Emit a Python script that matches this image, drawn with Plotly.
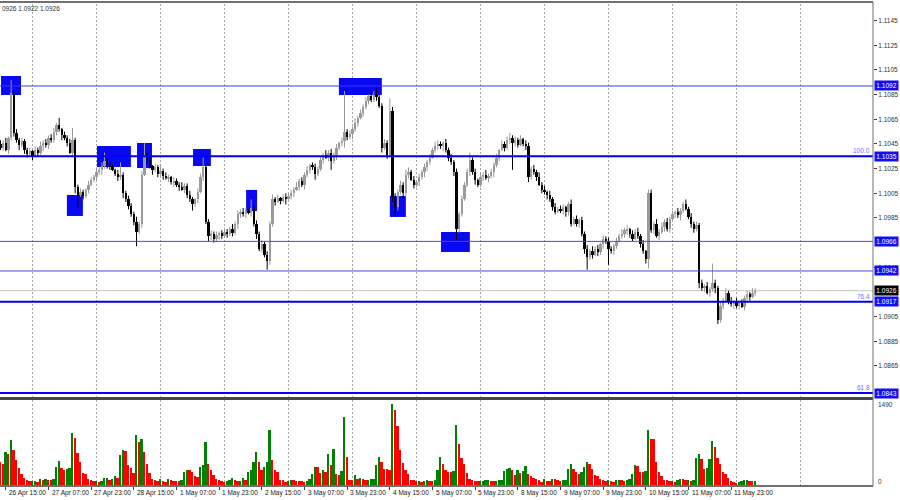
import plotly.graph_objects as go

# ---------------- data (prices in pips above 1.0900) ----------------
BASE = 1.0900
PIP = 0.0001
FIRST_OPEN_PIPS = 145

CLOSE_PIPS = [
    142, 146, 140, 150, 186, 154, 148, 144, 147, 140,
    137, 139, 135, 140, 138, 143, 146, 144, 150, 148,
    155, 160, 157, 152, 150, 146, 138, 148, 110, 104,
    106, 103, 108, 112, 116, 118, 122, 124, 127, 131,
    128, 126, 124, 121, 118, 120, 105, 100, 95, 88,
    82, 74, 80, 120, 136, 132, 127, 124, 126, 121,
    123, 119, 117, 118, 114, 115, 112, 110, 108, 111,
    104, 100, 96, 100, 106, 118, 126, 82, 70, 72,
    68, 71, 73, 70, 74, 72, 76, 73, 80, 88,
    90, 88, 91, 89, 93, 80, 72, 60, 64, 55,
    50, 80, 100, 98, 101, 99, 102, 100, 103, 105,
    108, 110, 115, 112, 120, 124, 128, 126, 121, 125,
    132, 136, 134, 138, 131, 136, 142, 146, 147, 155,
    151, 153, 157, 162, 166, 170, 175, 180, 184, 181,
    185, 183, 176, 142, 146, 136, 172, 102, 94, 106,
    112, 105, 120, 122, 116, 112, 114, 118, 122, 126,
    130, 134, 140, 143, 145, 143, 146, 140, 134, 130,
    122, 76, 88, 100, 112, 122, 132, 122, 116, 112,
    118, 120, 117, 119, 122, 128, 134, 140, 145, 142,
    148, 150, 146, 148, 144, 149, 145, 143, 118, 125,
    122, 118, 112, 108, 106, 104, 100, 94, 90, 92,
    91, 94, 90, 96, 80, 84, 80, 83, 72, 60,
    53, 58, 55, 60, 57, 64, 68, 66, 60, 58,
    62, 66, 70, 72, 75, 76, 72, 68, 74, 70,
    64, 58, 52, 105, 75, 80, 70, 74, 78, 82,
    76, 84, 88, 90, 87, 91, 96, 92, 86, 80,
    76, 79, 32, 28, 30, 24, 27, 32, 28, 2,
    14, 18, 24, 18, 15, 17, 14, 16, 13, 20,
    23, 21, 24, 26,
]

UPPER_WICK_PIPS = [
    3, 2, 4, 1, 11, 2, 3, 2, 3, 2,
    2, 3, 1, 3, 2, 4, 2, 3, 2, 3,
    3, 2, 6, 1, 3, 2, 3, 10, 2, 2,
    3, 2, 1, 3, 2, 2, 4, 2, 3, 7,
    2, 3, 2, 1, 3, 10, 2, 2, 3, 2,
    2, 4, 2, 3, 10, 2, 3, 1, 3, 2,
    5, 2, 3, 2, 1, 3, 2, 2, 4, 2,
    2, 3, 2, 1, 3, 3, 8, 2, 2, 3,
    2, 3, 1, 2, 3, 2, 2, 4, 2, 3,
    2, 3, 2, 1, 7, 2, 3, 2, 3, 2,
    3, 2, 4, 2, 3, 1, 2, 3, 2, 3,
    2, 4, 2, 3, 2, 3, 1, 2, 3, 2,
    3, 2, 4, 2, 3, 2, 3, 1, 3, 33,
    2, 3, 2, 4, 2, 3, 2, 3, 1, 3,
    3, 5, 2, 2, 3, 2, 10, 3, 3, 2,
    3, 2, 4, 4, 2, 3, 1, 3, 2, 3,
    2, 3, 2, 4, 3, 2, 1, 3, 2, 3,
    2, 3, 2, 3, 2, 3, 6, 2, 3, 1,
    3, 2, 4, 2, 3, 2, 3, 1, 3, 2,
    3, 4, 2, 3, 2, 3, 1, 3, 3, 2,
    3, 2, 4, 2, 3, 1, 3, 2, 3, 2,
    3, 2, 1, 2, 4, 2, 3, 2, 3, 2,
    3, 2, 4, 2, 3, 1, 3, 2, 3, 2,
    2, 3, 2, 4, 2, 3, 1, 3, 2, 3,
    2, 3, 1, 3, 3, 2, 4, 2, 3, 2,
    3, 2, 3, 1, 3, 2, 2, 4, 2, 3,
    2, 3, 2, 3, 1, 3, 2, 16, 3, 2,
    3, 2, 4, 2, 3, 1, 3, 2, 3, 2,
    3, 2, 4, 2,
]

LOWER_WICK_PIPS = [
    2, 3, 1, 3, 2, 3, 2, 4, 2, 3,
    3, 2, 3, 1, 3, 2, 4, 2, 3, 2,
    2, 3, 2, 4, 2, 3, 1, 2, 5, 11,
    2, 3, 2, 3, 1, 2, 3, 2, 4, 2,
    3, 2, 1, 2, 3, 2, 4, 2, 3, 2,
    3, 12, 2, 3, 1, 3, 2, 4, 2, 3,
    2, 3, 1, 3, 2, 4, 2, 3, 1, 3,
    3, 2, 5, 2, 3, 1, 3, 2, 4, 3,
    3, 2, 4, 2, 1, 3, 2, 3, 2, 4,
    3, 2, 3, 1, 3, 2, 4, 2, 3, 2,
    7, 3, 2, 3, 1, 3, 2, 4, 2, 3,
    3, 1, 3, 2, 4, 2, 3, 2, 5, 2,
    2, 3, 1, 3, 7, 2, 4, 2, 3, 5,
    3, 2, 4, 2, 3, 1, 3, 2, 3, 2,
    2, 3, 2, 4, 2, 3, 1, 4, 8, 3,
    2, 4, 2, 3, 1, 3, 2, 3, 2, 4,
    3, 2, 1, 2, 3, 2, 4, 2, 3, 2,
    3, 9, 3, 2, 1, 2, 3, 2, 4, 2,
    2, 3, 1, 3, 2, 4, 2, 3, 1, 3,
    2, 3, 22, 3, 2, 1, 2, 3, 4, 2,
    2, 3, 1, 3, 2, 4, 2, 3, 2, 1,
    2, 3, 4, 3, 2, 1, 2, 3, 2, 4,
    10, 2, 3, 1, 3, 2, 4, 2, 13, 2,
    3, 2, 1, 2, 3, 4, 3, 2, 1, 2,
    3, 2, 4, 8, 2, 3, 1, 3, 2, 4,
    2, 3, 1, 3, 2, 4, 2, 1, 2, 3,
    3, 2, 4, 2, 3, 1, 3, 2, 4, 3,
    2, 3, 1, 3, 2, 4, 2, 3, 1, 3,
    2, 3, 1, 2,
]

VOLUME = [
    434, 390, 608, 570, 837, 651, 465, 322, 217, 143,
    105, 81, 88, 90, 62, 124, 105, 118, 99, 93,
    124, 341, 446, 329, 279, 310, 315, 961, 868, 601,
    434, 229, 217, 112, 93, 74, 78, 62, 76, 143,
    146, 93, 124, 174, 143, 552, 651, 639, 372, 329,
    229, 930, 794, 862, 608, 390, 229, 124, 105, 74,
    118, 81, 68, 118, 93, 90, 87, 81, 93, 248,
    279, 275, 248, 180, 160, 341, 372, 794, 390, 279,
    198, 124, 105, 81, 62, 81, 105, 136, 93, 81,
    90, 143, 105, 248, 279, 434, 620, 434, 291, 341,
    434, 1023, 465, 291, 248, 105, 93, 62, 81, 105,
    93, 87, 81, 74, 68, 81, 118, 205, 341, 335,
    229, 291, 254, 570, 372, 663, 217, 186, 260, 1259,
    515, 105, 93, 186, 124, 143, 124, 93, 105, 118,
    124, 372, 527, 434, 310, 298, 290, 1490, 1383, 1085,
    651, 415, 291, 217, 105, 93, 74, 81, 62, 81,
    105, 87, 74, 105, 279, 527, 403, 279, 250, 240,
    267, 1116, 763, 496, 403, 236, 124, 105, 81, 74,
    82, 84, 93, 95, 84, 74, 81, 93, 95, 260,
    310, 329, 279, 186, 279, 229, 267, 353, 217, 167,
    136, 124, 93, 62, 124, 81, 74, 124, 112, 93,
    87, 93, 105, 304, 403, 304, 248, 217, 248, 341,
    428, 403, 304, 186, 180, 124, 105, 81, 93, 81,
    62, 93, 105, 93, 74, 93, 124, 205, 372, 353,
    248, 245, 267, 1023, 849, 845, 422, 248, 167, 105,
    93, 81, 74, 62, 105, 124, 112, 93, 100, 85,
    93, 496, 577, 477, 298, 329, 477, 825, 713, 496,
    390, 248, 217, 136, 81, 62, 43, 62, 81, 105,
    108, 81, 74, 81,
]

DATE_LABELS = [
    "26 Apr 15:00", "27 Apr 07:00", "27 Apr 23:00", "28 Apr 15:00",
    "1 May 07:00", "1 May 23:00", "2 May 15:00", "3 May 07:00",
    "3 May 23:00", "4 May 15:00", "5 May 07:00", "5 May 23:00",
    "8 May 15:00", "9 May 07:00", "9 May 23:00", "10 May 15:00",
    "11 May 07:00", "11 May 23:00",
]
DATE_LABEL_BARS = [2 + 16 * k for k in range(len(DATE_LABELS))]
DAY_GRID_BARS = [12 + 24 * k for k in range(13)]

LEVELS = [1.1092, 1.1035, 1.0966, 1.0942, 1.0917, 1.0843]
BID = 1.0926
FIB_LEVELS = [1.1035, 1.0917, 1.0843]
FIB_TEXT = ["100.0", "76.4", "61.8"]
PRICE_TICKS = [1.0865, 1.0885, 1.0905, 1.0945, 1.0985, 1.1005, 1.1025, 1.1045,
               1.1065, 1.1085, 1.1105, 1.1125, 1.1145]
VOLUME_TICKS = [0, 1490]
HEADER = "0926 1.0922 1.0926"

# signal zones: bar index span and price span
SIG_X0 = [0.2, 24.9, 36.2, 51.2, 72.2, 92.1, 126.9, 146.0, 165.2]
SIG_X1 = [7.7, 30.9, 48.9, 56.8, 78.9, 96.2, 143.0, 152.0, 176.0]
SIG_TOP = [1.11001, 1.10036, 1.10433, 1.10458, 1.10409, 1.10077, 1.10985, 1.10028, 1.09736]
SIG_BOT = [1.10847, 1.09866, 1.10263, 1.10255, 1.10271, 1.09906, 1.10847, 1.09858, 1.09574]

# ---------------- build ----------------
N = len(CLOSE_PIPS)
xs = list(range(N))
closes = [BASE + c * PIP for c in CLOSE_PIPS]
opens = [BASE + FIRST_OPEN_PIPS * PIP] + closes[:-1]
highs = [max(o, c) + u * PIP for o, c, u in zip(opens, closes, UPPER_WICK_PIPS)]
lows = [min(o, c) - l * PIP for o, c, l in zip(opens, closes, LOWER_WICK_PIPS)]
is_up = [c >= o for o, c in zip(opens, closes)]
vol_colors = ["#ff0000"] + ["#008000" if VOLUME[i] > VOLUME[i - 1] else "#ff0000" for i in range(1, N)]

UP_COLOR = "#9a9a9a"
DOWN_COLOR = "#000000"
FONT = "Liberation Sans"
plot_w = 873.0
bar_px = 2.6667
x_lo = -0.5 / bar_px
x_hi = x_lo + plot_w / bar_px

plot_h = 484.0
main_bottom = (486 - 397) / plot_h
vol_top = (486 - 400) / plot_h

fig = go.Figure()
# wicks
for up_flag, col in [(True, UP_COLOR), (False, DOWN_COLOR)]:
    wx, wy = [], []
    for i in range(N):
        if is_up[i] == up_flag:
            wx += [xs[i], xs[i], None]
            wy += [lows[i], highs[i], None]
    fig.add_trace(go.Scatter(x=wx, y=wy, mode="lines", line=dict(color=col, width=1),
                             xaxis="x", yaxis="y", hoverinfo="skip", showlegend=False))
# bodies
body_base = [min(o, c) for o, c in zip(opens, closes)]
body_h = [max(abs(c - o), 0.4 * PIP) for o, c in zip(opens, closes)]
fig.add_trace(go.Bar(
    x=xs, y=body_h, base=body_base, xaxis="x", yaxis="y", width=0.78,
    marker=dict(color=[UP_COLOR if u else DOWN_COLOR for u in is_up], line=dict(width=0)),
    hoverinfo="skip", showlegend=False,
))
fig.add_trace(go.Bar(
    x=xs, y=VOLUME, xaxis="x2", yaxis="y2", width=0.72,
    marker=dict(color=vol_colors, line=dict(width=0)),
    hoverinfo="skip", showlegend=False,
))

shapes = []
for g in DAY_GRID_BARS:
    shapes.append(dict(type="line", xref="x", yref="paper", x0=g, x1=g, y0=0, y1=1,
                       line=dict(color="#a4a4a4", width=1, dash="2px,2px"), layer="below"))
for a, b, t, bt in zip(SIG_X0, SIG_X1, SIG_TOP, SIG_BOT):
    shapes.append(dict(type="rect", xref="x", yref="y", x0=a, x1=b, y0=bt, y1=t,
                       fillcolor="#0808f2", line=dict(width=0), layer="below"))
shapes.append(dict(type="line", xref="paper", yref="y", x0=0, x1=1, y0=BID, y1=BID,
                   line=dict(color="#c4c4c4", width=1), layer="below"))
level_style = {1.1092: ("#3a3af0", 1), 1.1035: ("#0000ee", 2), 1.0966: ("#4a4ad6", 1),
               1.0942: ("#4a4ad6", 1), 1.0917: ("#0000ee", 2), 1.0843: ("#0000ee", 2)}
for lv in LEVELS:
    c, w = level_style[lv]
    shapes.append(dict(type="line", xref="paper", yref="y", x0=0, x1=1, y0=lv, y1=lv,
                       line=dict(color=c, width=w), layer="above"))
# frame
shapes.append(dict(type="rect", xref="paper", yref="paper", x0=0, x1=1, y0=vol_top, y1=main_bottom,
                   fillcolor="#474747", line=dict(width=0), layer="above"))
shapes.append(dict(type="line", xref="paper", yref="paper", x0=0, x1=1, y0=1, y1=1,
                   line=dict(color="#404040", width=1.5)))
shapes.append(dict(type="line", xref="paper", yref="paper", x0=0, x1=1, y0=0, y1=0,
                   line=dict(color="#404040", width=1.5)))
shapes.append(dict(type="line", xref="paper", yref="paper", x0=1, x1=1, y0=0, y1=1,
                   line=dict(color="#707070", width=1)))

ann = []
for lv in LEVELS:
    ann.append(dict(xref="paper", yref="y", x=1, y=lv, xanchor="left", yanchor="middle", xshift=1,
                    text="%.4f" % lv, showarrow=False, bgcolor="#1010f0", width=23, height=9,
                    borderpad=0, font=dict(family=FONT, size=6.5, color="white")))
ann.append(dict(xref="paper", yref="y", x=1, y=BID, xanchor="left", yanchor="middle", xshift=1,
                text="%.4f" % BID, showarrow=False, bgcolor="#000000", width=23, height=9,
                borderpad=0, font=dict(family=FONT, size=6.5, color="white")))
for lv, t in zip(FIB_LEVELS, FIB_TEXT):
    ann.append(dict(xref="paper", yref="y", x=1, y=lv, xanchor="right", yanchor="bottom", xshift=-1,
                    text=t, showarrow=False, font=dict(family=FONT, size=6.5, color="#6f6fff")))
for v, ys in zip(VOLUME_TICKS, [4, 0]):
    ann.append(dict(xref="paper", yref="y2", x=1, y=v, xanchor="left", yanchor="middle", xshift=3,
                    yshift=ys, text=str(v), showarrow=False,
                    font=dict(family=FONT, size=6.5, color="#303030")))
for b, t in zip(DATE_LABEL_BARS, DATE_LABELS):
    ann.append(dict(xref="x2", yref="paper", x=b, y=0, xanchor="left", yanchor="top", xshift=1,
                    yshift=-1, text=t, showarrow=False,
                    font=dict(family=FONT, size=6.5, color="#202020")))
ann.append(dict(xref="paper", yref="paper", x=0, y=1, xanchor="left", yanchor="top", yshift=-1,
                text=HEADER, showarrow=False, font=dict(family=FONT, size=6.5, color="#303030")))

fig.update_layout(
    width=900, height=500,
    margin=dict(l=0, r=27, t=2, b=14),
    paper_bgcolor="white", plot_bgcolor="white",
    shapes=shapes, annotations=ann, bargap=0, barmode="overlay",
    xaxis=dict(domain=[0, 1], range=[x_lo, x_hi], anchor="y", showticklabels=False,
               showgrid=False, zeroline=False, fixedrange=True),
    xaxis2=dict(domain=[0, 1], range=[x_lo, x_hi], anchor="y2", showticklabels=False,
                showgrid=False, zeroline=False, ticks="outside", ticklen=3, tickcolor="#404040",
                tickvals=DATE_LABEL_BARS, fixedrange=True),
    yaxis=dict(domain=[main_bottom, 1], range=[1.08398, 1.11601], side="right", anchor="x",
               tickvals=PRICE_TICKS, tickformat=".4f", ticks="outside", ticklen=3,
               tickcolor="#404040", tickfont=dict(family=FONT, size=6.5, color="#303030"),
               showgrid=False, zeroline=False, fixedrange=True),
    yaxis2=dict(domain=[0, vol_top], range=[-10, 1570], side="right", anchor="x2",
                showticklabels=False, showgrid=False, zeroline=False, fixedrange=True),
)

fig.write_html("out.html", config={"displayModeBar": False},
               post_script="document.body.style.margin='0';document.body.style.overflow='hidden';")
